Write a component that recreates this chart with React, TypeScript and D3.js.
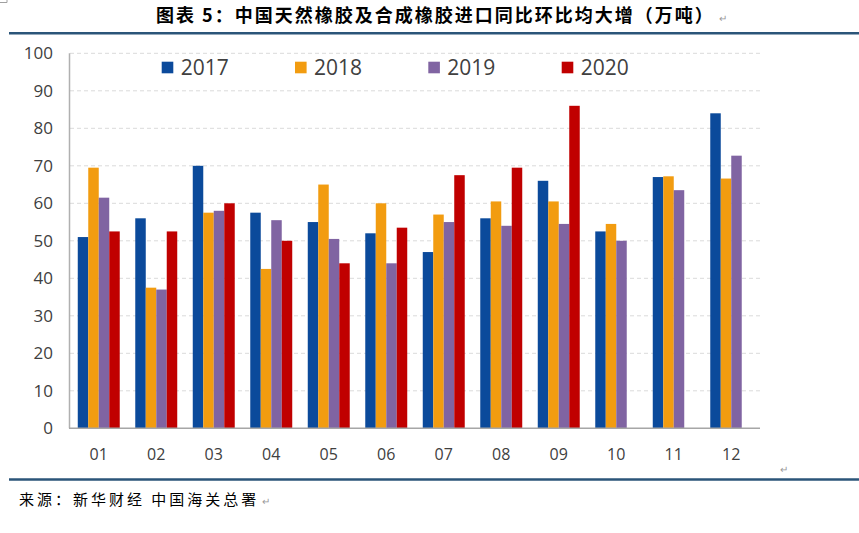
import React from "react";
import * as d3 from "d3";

const months = ["01", "02", "03", "04", "05", "06", "07", "08", "09", "10", "11", "12"];
const seriesNames = ["2017", "2018", "2019", "2020"];
const v2017 = [51, 56, 70, 57.5, 55, 52, 47, 56, 66, 52.5, 67, 84];
const v2018 = [69.5, 37.5, 57.5, 42.5, 65, 60, 57, 60.5, 60.5, 54.5, 67.2, 66.6];
const v2019 = [61.5, 37, 58, 55.5, 50.5, 44, 55, 54, 54.5, 50, 63.5, 72.7];
const v2020: (number | null)[] = [52.5, 52.5, 60, 50, 44, 53.5, 67.5, 69.5, 86, null, null, null];
const yTicks = [0, 10, 20, 30, 40, 50, 60, 70, 80, 90, 100];
const colors = ["#0b4a9b", "#f29c10", "#8064a2", "#c00000"];
const title = "图表 5：中国天然橡胶及合成橡胶进口同比环比均大增（万吨）";
const source = "来源：新华财经 中国海关总署";

const W = 859;
const H = 533;
const left = 70;
const right = 760;
const top = 53.3;
const bottom = 428.3;

export default function App() {
  const all = [v2017, v2018, v2019, v2020];
  const y = d3.scaleLinear().domain([0, 100]).range([bottom, top]);
  const x0 = d3.scaleBand<string>().domain(months).range([left, right]).paddingInner(0.27).paddingOuter(0.135);
  const x1 = d3.scaleBand<string>().domain(seriesNames).range([0, x0.bandwidth()]);
  const numFont = "'Open Sans', 'Noto Sans', sans-serif";
  const cjkFont = "'Noto Sans CJK SC', sans-serif";
  const legendX = [161.7, 295, 428.3, 561.7];

  return (
    <svg width={W} height={H} style={{ position: "absolute", left: 0, top: 0, background: "#fff" }}>
      <rect x={0} y={0} width={W} height={H} fill="#fff" />
      <path d="M0,2.5 H7 V0" fill="none" stroke="#a0a0a0" strokeWidth={1} />
      <text x={156} y={22} fontFamily={cjkFont} fontSize={18} fontWeight={600} letterSpacing={2.0} fill="#000">
        {title}
      </text>
      <text x={719} y={22} fontFamily={cjkFont} fontSize={10} fill="#999">↵</text>
      <line x1={9} x2={W} y1={33.3} y2={33.3} stroke="#2b5579" strokeWidth={2.5} />

      {yTicks.filter((t) => t > 0).map((t) => (
        <line key={"g" + t} x1={left} x2={right} y1={y(t)} y2={y(t)} stroke="#dadada" strokeWidth={1} strokeDasharray="4,3" />
      ))}

      {all.map((vals, si) =>
        vals.map((v, mi) =>
          v == null ? null : (
            <rect
              key={si + "-" + mi}
              x={(x0(months[mi]) as number) + (x1(seriesNames[si]) as number)}
              y={y(v)}
              width={x1.bandwidth()}
              height={bottom - y(v)}
              fill={colors[si]}
            />
          )
        )
      )}

      <line x1={left - 0.5} x2={left - 0.5} y1={top} y2={bottom} stroke="#b0b0b0" strokeWidth={1.5} />
      <line x1={left - 1} x2={right} y1={bottom} y2={bottom} stroke="#a6a6a6" strokeWidth={1.5} />

      {yTicks.map((t) => (
        <text key={"y" + t} x={53} y={y(t)} dy="0.36em" textAnchor="end" fontFamily={numFont} fontSize={17} fill="#404040">
          {t}
        </text>
      ))}
      {months.map((m) => (
        <text key={"x" + m} x={(x0(m) as number) + x0.bandwidth() / 2} y={460} textAnchor="middle" fontFamily={numFont} fontSize={16} fill="#404040">
          {m}
        </text>
      ))}

      {seriesNames.map((s, i) => (
        <g key={"l" + s}>
          <rect x={legendX[i]} y={61.7} width={11.6} height={11.6} fill={colors[i]} />
          <text x={legendX[i] + 19} y={75} fontFamily={numFont} fontSize={21} fill="#404040">
            {s}
          </text>
        </g>
      ))}

      <text x={780} y={473} fontFamily={cjkFont} fontSize={10} fill="#999">↵</text>
      <line x1={9} x2={W} y1={479.5} y2={479.5} stroke="#2b5579" strokeWidth={2.5} />
      <text x={19} y={505} fontFamily={cjkFont} fontSize={15} letterSpacing={3} fill="#000">
        {source}
      </text>
      <text x={262} y={505} fontFamily={cjkFont} fontSize={10} fill="#999">↵</text>
    </svg>
  );
}
